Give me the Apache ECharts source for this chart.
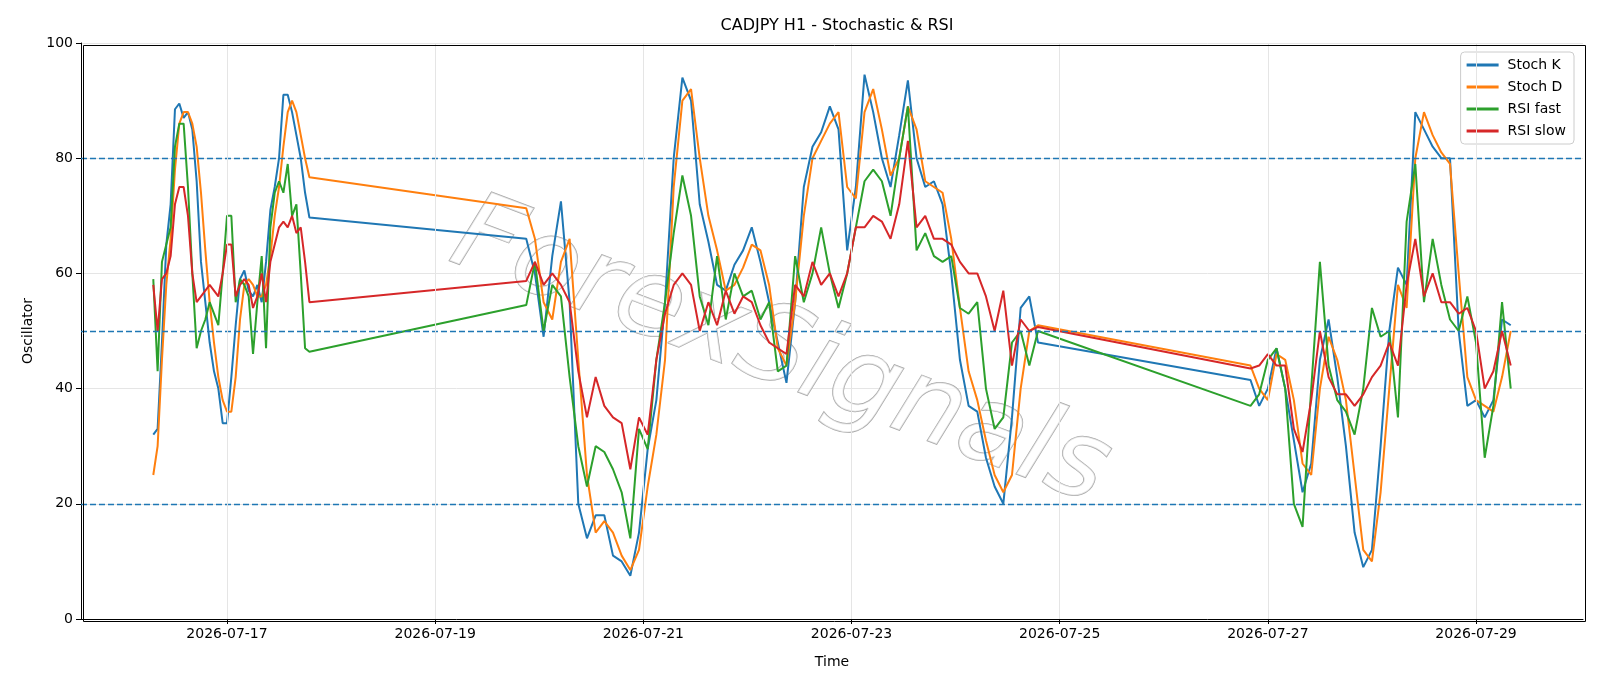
<!DOCTYPE html>
<html><head><meta charset="utf-8">
<script src="https://cdn.jsdelivr.net/npm/echarts@6/dist/echarts.min.js"></script>
<style>html,body{margin:0;padding:0;background:#fff}#c{width:1600px;height:686px}</style>
</head><body><div id="c"></div>
<script>
// segments: [start (UTC), step hours, count]
const segments = [
  ['2026-07-16T07:00:00Z', 1, 37],
  ['2026-07-19T21:00:00Z', 2, 60],
  ['2026-07-26T20:00:00Z', 2, 31]
];
const stochK = [
  32,33,48,65,72,88.5,89.5,87,88,85,76,62,55,48,43,40,34,34,42,51,59,60.5,57,56,58,55,62,71,75,80,91,91,88,84,80,74,69.7,
  66,60,49,63,72.5,55,20,14,18,18,11,10,7.5,15,29.5,38,55,80,94,90,72,65.5,58,57,61.5,64,68,62,55,48,41,55,75,82,84.5,89,85,64,75,94.5,88,80,75,84,93.5,80,75,76,72,60,45,37,36,28,23,20,35,54,56,48,
  41.5,37,40,47,40,31,22,27,45,52,42,30,15,9,12,30,50,61,58,88,85,82,80,80,50,37,38,35,38,52,51
];
const stochD = [
  25,30,45,58,66,78,86,88,88,86,82,74,64,55,48,42,38,36,36,42,52,58,59,58,56,56,58,63,70,75,82,88,90,88,84,80,76.7,
  71.3,66,55,52,62,66,45,25,15,17,15,11,8.5,12,23,32,45,75,90,92,80,70,64,57,58,61,65,64,58,47,44,55,70,80,83,86,88,75,73,88,92,85,77,80,89,85,76,75,74,66,54,43,38,31,25,22,25,40,50,51,
  44,40,38,46,45,38,27,25,40,49,45,38,25,12,10,22,40,58,54,80,88,84,81,79,60,42,38,37,36,42,50
];
const rsiFast = [
  59,43,62,65,68,82,86,86,75,60,47,50,52,55,53,51,60,70,70,55,59,58,56,46,55,63,47,68,74,76,74,79,70,72,60,47,46.4,
  54.5,62,50,58,56,42,30,23,30,29,26,22,14,33,29.5,45,55,67,77,70,56,51,63,52,60,56,57,52,55,43,44,63,55,60,68,60,54,60,68,76,78,76,70,80,89,64,67,63,62,63,54,53,55,40,33,35,48,50,44,50,
  37,39,45,47,40,20,16,40,62,44,38,36,32,40,54,49,50,35,69,79,55,66,58,52,50,56,48,28,37,55,40
];
const rsiSlow = [
  58,50,59,60,63,72,75,75,70,60,55,56,57,58,57,56,60,65,65,56,58,59,58,54,56,60,55,62,65,68,69,68,70,67,68,62,55,
  58.7,62,58,60,58,55,43,35,42,37,35,34,26,35,32,45,53,58,60,58,50,55,51,57,53,56,55,51,48,47,46,58,56,62,58,60,56,60,68,68,70,69,66,72,83,68,70,66,66,65,62,60,60,56,50,57,44,52,50,50.7,
  43.5,44,46,44,44,33,29,38,50,42,39,39,37,39,42,44,48,44,58,66,56,60,55,55,53,54,50,40,43,50,44
];
const yTicks = [0,20,40,60,80,100];
const xTickDates = ['2026-07-17','2026-07-19','2026-07-21','2026-07-23','2026-07-25','2026-07-27','2026-07-29'];
const refLevels = [20,50,80];

const times = [];
segments.forEach(([s, step, n]) => { const t0 = Date.parse(s); for (let i = 0; i < n; i++) times.push(t0 + i*step*3600000); });
const pair = arr => arr.map((v,i)=>[times[i], v]);
const xTicks = xTickDates.map(d => Date.parse(d+'T00:00:00Z'));
const fmt = v => { const d = new Date(v); return d.getUTCFullYear()+'-'+String(d.getUTCMonth()+1).padStart(2,'0')+'-'+String(d.getUTCDate()).padStart(2,'0'); };

const chart = echarts.init(document.getElementById('c'), null, {renderer:'canvas'});
const font = 'DejaVu Sans';
const mk = (name, color, data, extra) => Object.assign({
  name, type:'line', data: pair(data), showSymbol:false, symbol:'none',
  lineStyle:{color, width:2}, itemStyle:{color}, animation:false, z:3
}, extra||{});
chart.setOption({
  animation:false,
  textStyle:{fontFamily:font},
  title:{text:'CADJPY H1 - Stochastic & RSI', left:832, top:13, textAlign:'center',
    textStyle:{fontFamily:font, fontSize:16, fontWeight:'normal', color:'#000'}},
  grid:{left:81, right:17, top:43, bottom:67, containLabel:false},
  legend:{orient:'vertical', right:26, top:52, itemWidth:32, itemHeight:3, itemGap:8,
    icon:'rect', backgroundColor:'rgba(255,255,255,0.8)', borderColor:'#ccc', borderWidth:1, borderRadius:4,
    padding:[6,8,6,6], textStyle:{fontFamily:font, fontSize:14, color:'#000', padding:[0,0,0,4]},
    data:['Stoch K','Stoch D','RSI fast','RSI slow']},
  xAxis:{type:'value', min:Date.parse('2026-07-15T14:20:00Z'), max:Date.parse('2026-07-30T00:40:00Z'),
    name:'Time', nameLocation:'middle', nameGap:36, nameTextStyle:{fontFamily:font, fontSize:14, color:'#000'},
    axisLine:{lineStyle:{color:'#000', width:1}},
    axisTick:{customValues:xTicks, length:5, lineStyle:{color:'#000'}},
    axisLabel:{customValues:xTicks, formatter:fmt, fontFamily:font, fontSize:14, color:'#000', margin:8},
    splitLine:{show:false}},
  yAxis:{type:'value', min:0, max:100, interval:20,
    name:'Oscillator', nameLocation:'middle', nameGap:44, nameRotate:90, nameTextStyle:{fontFamily:font, fontSize:14, color:'#000'},
    axisLine:{show:true, lineStyle:{color:'#000'}}, axisTick:{show:true, length:5, lineStyle:{color:'#000'}},
    axisLabel:{fontFamily:font, fontSize:14, color:'#000', margin:8, customValues:yTicks},
    splitLine:{show:true, lineStyle:{color:'#e5e5e5', width:1}}},
  graphic:[
    {type:'rect', left:81, top:43, shape:{width:1502, height:576}, style:{fill:'none', stroke:'#000', lineWidth:1}, silent:true, z:10},
    {type:'text', x:780, y:355, rotation:-0.36, silent:true, z:1,
      style:{text:'ForexSignals', font:'italic 108px "DejaVu Sans"', fill:'rgba(255,255,255,0.7)', stroke:'#a8a8a8', lineWidth:1.5,
        align:'center', verticalAlign:'middle', shadowColor:'rgba(0,0,0,0.35)', shadowBlur:3, shadowOffsetX:4, shadowOffsetY:4}}
  ],
  series:[
    mk('Stoch K','#1f77b4',stochK,{
      markLine:{silent:true, symbol:'none', label:{show:false}, animation:false,
        data: refLevels.map(v=>({yAxis:v, lineStyle:{color:'#1f77b4', type:[6,3], width:1.3}}))
          .concat(xTicks.map(v=>({xAxis:v, lineStyle:{color:'#e5e5e5', type:'solid', width:1}})))}
    }),
    mk('Stoch D','#ff7f0e',stochD),
    mk('RSI fast','#2ca02c',rsiFast),
    mk('RSI slow','#d62728',rsiSlow)
  ]
});
</script></body></html>
